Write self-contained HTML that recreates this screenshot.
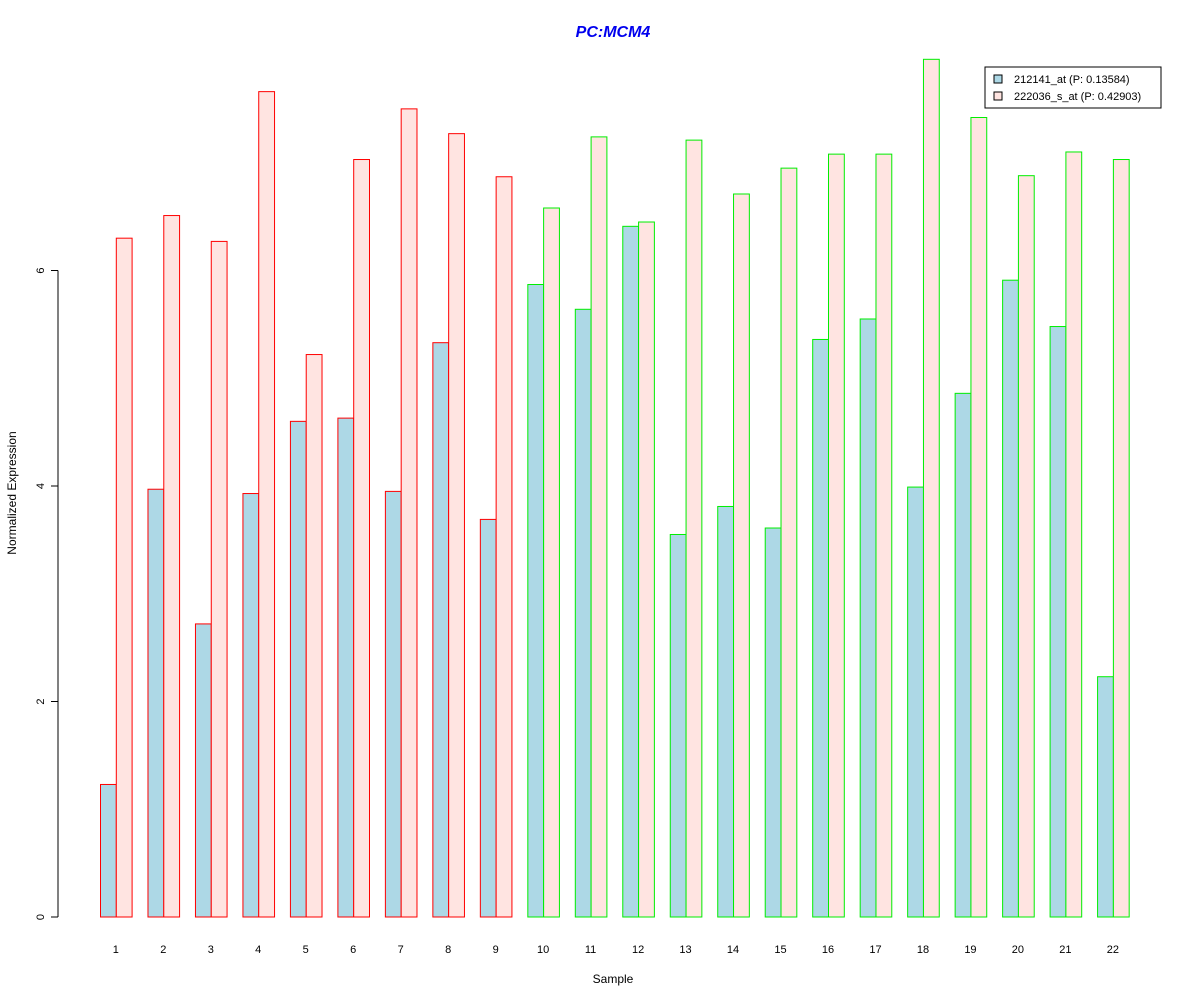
<!DOCTYPE html>
<html><head><meta charset="utf-8"><style>body{margin:0;background:#fff}svg{display:block;font-family:"Liberation Sans",Arial,sans-serif}</style></head>
<body>
<svg id="chart" width="1200" height="1000">
<text x="613" y="37" text-anchor="middle" font-size="16" font-weight="bold" font-style="italic" fill="#0000ee">PC:MCM4</text>
<text x="613" y="983" text-anchor="middle" font-size="12">Sample</text>
<text transform="translate(16,493) rotate(-90)" text-anchor="middle" font-size="12">Normalized Expression</text>
<g id="yaxis"></g>
<g id="bars"></g>
<g id="xlabels"></g>
<g>
<rect x="985" y="67" width="176" height="41" fill="#fff" stroke="#000" stroke-width="1"/>
<rect x="994" y="75" width="8" height="8" fill="#add8e6" stroke="#000"/>
<text x="1014" y="83" font-size="11">212141_at (P: 0.13584)</text>
<rect x="994" y="92" width="8" height="8" fill="#ffe4e1" stroke="#000"/>
<text x="1014" y="100" font-size="11">222036_s_at (P: 0.42903)</text>
</g>
</svg>
<script>
const categories=["1","2","3","4","5","6","7","8","9","10","11","12","13","14","15","16","17","18","19","20","21","22"];
const series212141=[1.23,3.97,2.72,3.93,4.60,4.63,3.95,5.33,3.69,5.87,5.64,6.41,3.55,3.81,3.61,5.36,5.55,3.99,4.86,5.91,5.48,2.23];
const series222036=[6.30,6.51,6.27,7.66,5.22,7.03,7.50,7.27,6.87,6.58,7.24,6.45,7.21,6.71,6.95,7.08,7.08,7.96,7.42,6.88,7.10,7.03];
const groups=["red","red","red","red","red","red","red","red","red","green","green","green","green","green","green","green","green","green","green","green","green","green"];
const yTicks=[0,2,4,6];
const NS="http://www.w3.org/2000/svg";
const y=v=>917-v*107.75;
const gx=i=>100+i*47.48;
const bw=15.8;
const border={red:"#ff0000",green:"#00ee00"};
const yax=document.getElementById("yaxis");
const ln=document.createElementNS(NS,"line");
ln.setAttribute("x1",58);ln.setAttribute("x2",58);ln.setAttribute("y1",y(0));ln.setAttribute("y2",y(yTicks[yTicks.length-1]));ln.setAttribute("stroke","#000");


yax.appendChild(ln);
yTicks.forEach(t=>{
 const tk=document.createElementNS(NS,"line");
 tk.setAttribute("x1",51);tk.setAttribute("x2",58);tk.setAttribute("y1",y(t));tk.setAttribute("y2",y(t));tk.setAttribute("stroke","#000");
 
 
 yax.appendChild(tk);
 const tx=document.createElementNS(NS,"text");
 tx.setAttribute("transform",`translate(44,${y(t)}) rotate(-90)`);tx.setAttribute("text-anchor","middle");tx.setAttribute("font-size","11");tx.textContent=t;
 
 
 yax.appendChild(tx);
});
const bars=document.getElementById("bars"),xl=document.getElementById("xlabels");
categories.forEach((c,i)=>{
 [[series212141[i],"#add8e6",0],[series222036[i],"#ffe4e1",1]].forEach(([v,f,k])=>{
  const r=document.createElementNS(NS,"rect");
  r.setAttribute("x",gx(i)+k*bw+0.5);r.setAttribute("y",y(v));r.setAttribute("width",bw);r.setAttribute("height",y(0)-y(v));
  r.setAttribute("fill",f);r.setAttribute("stroke",border[groups[i]]);r.setAttribute("stroke-width","1");
  
  
  bars.appendChild(r);
 });
 const t=document.createElementNS(NS,"text");
 t.setAttribute("x",gx(i)+bw);t.setAttribute("y",953);t.setAttribute("text-anchor","middle");t.setAttribute("font-size","11");t.textContent=c;
 
 
 xl.appendChild(t);
});
</script>
</body></html>
